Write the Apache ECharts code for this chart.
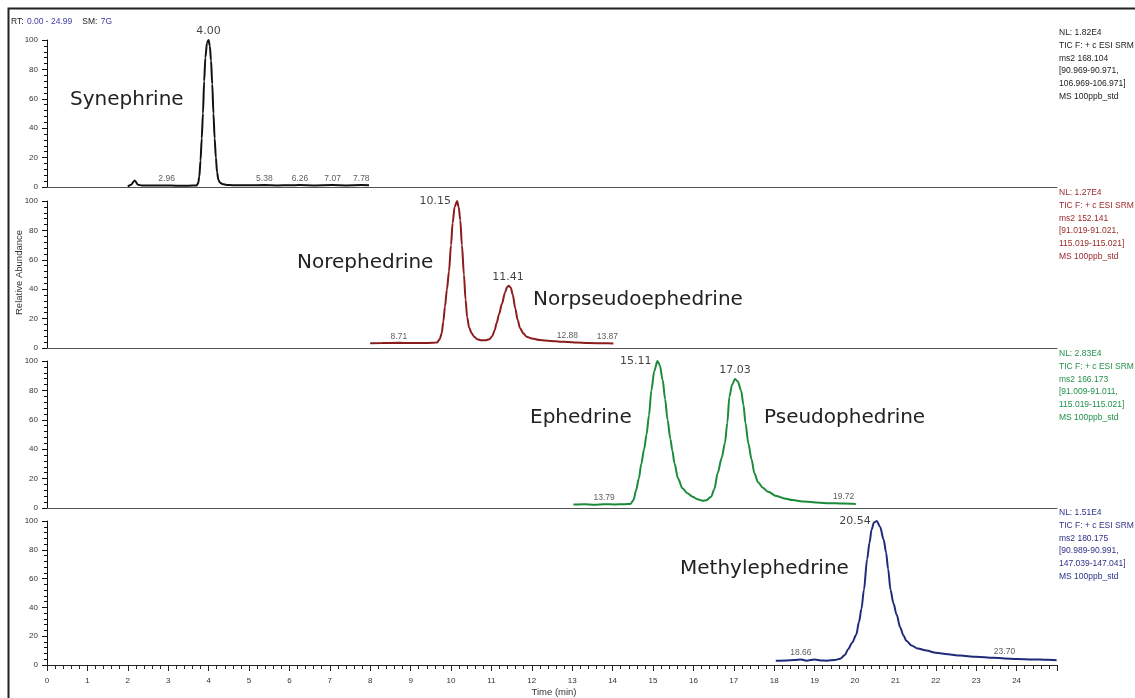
<!DOCTYPE html>
<html>
<head>
    <meta charset="utf-8">
    <title>SRM chromatogram</title>
    <style>
        html, body { margin: 0; padding: 0; background: #fff; }
    </style>
</head>
<body>
<div id="main" style="width: 1135px;height:698px;"></div>

<script src="https://cdn.jsdelivr.net/npm/echarts@6/dist/echarts.min.js"></script>
<script>
    // traces: [time (min), relative abundance (%)]
    var synephrine = [
        [2.00, 0.3], [2.08, 1.5], [2.17, 4.5], [2.25, 1.6], [2.35, 1.0], [2.60, 1.0], [2.96, 1.1],
        [3.20, 0.9], [3.50, 0.9], [3.70, 1.0], [3.74, 2.5], [3.77, 7], [3.80, 18], [3.83, 33],
        [3.86, 50], [3.89, 72], [3.92, 88], [3.96, 98], [4.00, 100], [4.03, 96], [4.06, 86],
        [4.09, 70], [4.12, 50], [4.15, 33], [4.18, 20], [4.21, 10], [4.24, 5], [4.28, 3],
        [4.34, 2], [4.45, 1.4], [4.60, 1.2], [5.00, 1.2], [5.38, 1.3], [5.70, 1.1], [6.00, 1.2],
        [6.26, 1.3], [6.60, 1.1], [7.07, 1.3], [7.40, 1.1], [7.78, 1.3], [7.97, 1.2]
    ];
    var norephedrine = [
        [8.00, 3.3], [8.30, 3.4], [8.71, 3.5], [9.00, 3.4], [9.30, 3.4], [9.55, 3.5], [9.66, 3.8],
        [9.72, 6], [9.77, 10], [9.81, 18], [9.85, 28], [9.90, 40], [9.95, 52], [10.00, 70],
        [10.04, 85], [10.09, 96], [10.15, 100], [10.19, 96], [10.23, 87], [10.27, 70], [10.32, 50],
        [10.36, 33], [10.40, 21], [10.45, 14], [10.51, 10], [10.58, 7.5], [10.65, 6], [10.75, 5.2],
        [10.85, 5.2], [10.95, 6], [11.02, 8], [11.08, 12], [11.13, 17], [11.19, 23], [11.26, 30],
        [11.34, 38], [11.39, 41.5], [11.43, 42.4], [11.48, 41], [11.53, 36], [11.59, 27],
        [11.65, 19], [11.71, 13.5], [11.79, 10], [11.87, 7.7], [12.00, 6.5], [12.20, 5.4],
        [12.45, 4.8], [12.70, 4.3], [12.88, 4.1], [13.10, 3.8], [13.40, 3.4], [13.87, 3.2], [14.02, 3.1]
    ];
    var ephedrine = [
        [13.03, 2.3], [13.30, 2.5], [13.55, 2.2], [13.79, 2.6], [14.05, 2.4], [14.30, 2.6],
        [14.44, 2.8], [14.52, 5.5], [14.58, 12], [14.65, 20], [14.71, 30], [14.78, 40], [14.84, 50],
        [14.90, 63], [14.96, 80], [15.03, 93], [15.11, 100], [15.17, 97], [15.24, 87], [15.30, 74],
        [15.36, 60], [15.43, 47], [15.48, 39], [15.53, 30.6], [15.62, 20], [15.73, 13.4],
        [15.85, 10], [15.98, 7.7], [16.10, 6], [16.22, 5], [16.32, 5.3], [16.44, 7.7], [16.52, 13],
        [16.60, 23.6], [16.70, 34], [16.78, 44], [16.84, 58], [16.89, 75.7], [16.96, 84],
        [17.03, 87.8], [17.10, 86], [17.18, 80], [17.24, 70], [17.29, 57.6], [17.36, 44],
        [17.44, 33], [17.51, 23.6], [17.60, 17.5], [17.71, 14], [17.85, 11], [18.05, 8.2],
        [18.25, 6.5], [18.45, 5.4], [18.70, 4.5], [18.96, 3.9], [19.30, 3.3], [19.72, 3.0], [20.02, 2.8]
    ];
    var methylephedrine = [
        [18.04, 3.0], [18.30, 3.2], [18.50, 3.4], [18.66, 3.9], [18.80, 3.0], [19.00, 3.8],
        [19.15, 3.2], [19.30, 3.0], [19.50, 3.5], [19.63, 4.3], [19.75, 7], [19.83, 11],
        [19.93, 15.5], [20.03, 21], [20.10, 30], [20.16, 39], [20.22, 52], [20.30, 73.5],
        [20.36, 85], [20.41, 94], [20.47, 99], [20.54, 100], [20.62, 96], [20.71, 87], [20.77, 78],
        [20.82, 66.7], [20.88, 52], [20.95, 43], [21.03, 35], [21.12, 26], [21.20, 20.5],
        [21.27, 16.8], [21.40, 13.5], [21.55, 11.5], [21.77, 10], [22.00, 8.5], [22.30, 7.4],
        [22.60, 6.6], [23.00, 5.7], [23.42, 5.0], [23.70, 4.6], [24.00, 4.2], [24.40, 3.9],
        [24.75, 3.6], [24.99, 3.3]
    ];
    var traces = [synephrine, norephedrine, ephedrine, methylephedrine];

    // labelled peaks: [panel, rt, abundance]
    var majorPeaks = [[0, 4.00, 100], [1, 10.15, 100], [1, 11.41, 42.4], [2, 15.11, 100], [2, 17.03, 87.8], [3, 20.54, 100]];
    var minorPeaks = [
        [0, 2.96, 1.1], [0, 5.38, 1.3], [0, 6.26, 1.3], [0, 7.07, 1.3], [0, 7.78, 1.3],
        [1, 8.71, 3.5], [1, 12.88, 4.1], [1, 13.87, 3.2],
        [2, 13.79, 2.6], [2, 19.72, 3.0],
        [3, 18.66, 3.9], [3, 23.70, 4.6]
    ];
    var leftLabelled = [10.15, 15.11, 20.54];

    var compounds = ['Synephrine', 'Norephedrine', 'Norpseudoephedrine', 'Ephedrine', 'Pseudophedrine', 'Methylephedrine'];
    var compoundPos = [[70, 100], [297, 263], [533, 300], [530, 418], [764, 418], [680, 569]];

    // per-panel header text
    var infoNL = ['1.82E4', '1.27E4', '2.83E4', '1.51E4'];
    var infoMass = ['168.104', '152.141', '166.173', '180.175'];
    var infoRange1 = ['90.969-90.971', '91.019-91.021', '91.009-91.011', '90.989-90.991'];
    var infoRange2 = ['106.969-106.971', '115.019-115.021', '115.019-115.021', '147.039-147.041'];

    var yTicks = [0, 20, 40, 60, 80, 100];

    var colors = ['#111111', '#8a1c1c', '#1b8a3a', '#1f2a7a'];
    var infoColors = ['#222222', '#9a2a2a', '#23914a', '#2e3288'];
    var panelTop = [40, 201, 361, 521];
    var panelH = 147;
    var infoTop = [33, 193, 354, 513];
    var SANS = '"Liberation Sans", Arial, sans-serif';
    var BIG = '"DejaVu Sans", sans-serif';

    var myChart = echarts.init(document.getElementById('main'));

    var grids = [], xAxes = [], yAxes = [], series = [], graphics = [];

    function peakData(list, i, labelled) {
        return list.filter(function (p) { return p[0] === i; }).map(function (p) {
            var v = [p[1], p[2]];
            if (labelled && leftLabelled.indexOf(p[1]) >= 0) {
                return {value: v, label: {position: 'left', distance: 6}};
            }
            return v;
        });
    }

    for (var i = 0; i < 4; i++) {
        var last = (i === 3);
        grids.push({left: 47, right: 78, top: panelTop[i], height: panelH});
        xAxes.push({
            type: 'value', gridIndex: i, min: 0, max: 25, interval: 1,
            axisLine: {show: true, lineStyle: {color: last ? '#222' : '#555', width: 1}},
            axisTick: {show: last, length: 6, lineStyle: {color: '#222'}},
            minorTick: {show: last, splitNumber: 5, length: 4, lineStyle: {color: '#222'}},
            axisLabel: {show: last, fontSize: 8, margin: 12, color: '#333', fontFamily: SANS, showMaxLabel: false},
            splitLine: {show: false},
            name: last ? 'Time (min)' : '',
            nameLocation: 'middle', nameGap: 22,
            nameTextStyle: {fontSize: 9.5, color: '#333', fontFamily: SANS, padding: [0, 0, 0, 4]}
        });
        yAxes.push({
            type: 'value', gridIndex: i, min: yTicks[0], max: yTicks[yTicks.length - 1], interval: 20,
            axisLine: {show: true, lineStyle: {color: '#111', width: 1}},
            axisTick: {show: true, length: 5, lineStyle: {color: '#111'}},
            minorTick: {show: true, splitNumber: 5, length: 3, lineStyle: {color: '#111'}},
            axisLabel: {fontSize: 8, margin: 9, color: '#333', fontFamily: SANS},
            splitLine: {show: false},
            name: i === 1 ? 'Relative Abundance' : '',
            nameLocation: 'middle', nameGap: 23, nameRotate: 90, nameMoveOverlap: false,
            nameTextStyle: {fontSize: 9.5, color: '#333', fontFamily: SANS, padding: [0, 0, 0, 4]}
        });

        series.push({
            type: 'line', xAxisIndex: i, yAxisIndex: i,
            data: traces[i], showSymbol: false, smooth: 0.3, smoothMonotone: 'x',
            lineStyle: {color: colors[i], width: 2}, silent: true, z: 3
        });

        series.push({
            type: 'scatter', xAxisIndex: i, yAxisIndex: i, symbolSize: 0, silent: true, clip: false,
            data: peakData(majorPeaks, i, true),
            label: {
                show: true, fontSize: 11, color: '#111', fontFamily: BIG,
                formatter: function (d) { return d.value[0].toFixed(2); },
                position: 'top', distance: 3
            },
            z: 4
        });

        series.push({
            type: 'scatter', xAxisIndex: i, yAxisIndex: i, symbolSize: 0, silent: true, clip: false,
            data: peakData(minorPeaks, i, false),
            label: {
                show: true, fontSize: 8.5, color: '#333', fontFamily: SANS,
                formatter: function (d) { return d.value[0].toFixed(2); },
                position: 'top', distance: 2
            },
            z: 4
        });

        var lines = [
            'NL: ' + infoNL[i],
            'TIC F: + c ESI SRM',
            'ms2 ' + infoMass[i],
            '[' + infoRange1[i] + ',',
            infoRange2[i] + ']',
            'MS 100ppb_std'
        ];
        lines.forEach(function (t, k) {
            graphics.push({
                type: 'text', x: 1059, y: infoTop[i] + k * 12.7,
                style: {text: t, fontSize: 8.5, fontFamily: SANS, fill: infoColors[i], verticalAlign: 'middle', align: 'left'}
            });
        });
    }

    compounds.forEach(function (name, k) {
        graphics.push({
            type: 'text', x: compoundPos[k][0], y: compoundPos[k][1],
            style: {text: name, fontSize: 20, fontFamily: BIG, fill: '#222', verticalAlign: 'middle', align: 'left'}
        });
    });

    // retention-time range header
    graphics.push({
        type: 'text', x: 11, y: 22,
        style: {
            text: '{k|RT:} {v|0.00 - 24.99}   {k|SM:} {v|7G}',
            verticalAlign: 'middle', align: 'left',
            rich: {
                k: {fontSize: 8.5, fontFamily: SANS, fill: '#222', color: '#222'},
                v: {fontSize: 8.5, fontFamily: SANS, fill: '#3d3da0', color: '#3d3da0'}
            }
        }
    });

    // outer frame
    graphics.push({
        type: 'rect', shape: {x: 8.5, y: 8.5, width: 1400, height: 1000},
        style: {fill: null, stroke: '#222', lineWidth: 2}, silent: true
    });

    myChart.setOption({
        animation: false,
        backgroundColor: '#fff',
        grid: grids,
        xAxis: xAxes,
        yAxis: yAxes,
        series: series,
        graphic: graphics
    });
</script>
</body>
</html>
